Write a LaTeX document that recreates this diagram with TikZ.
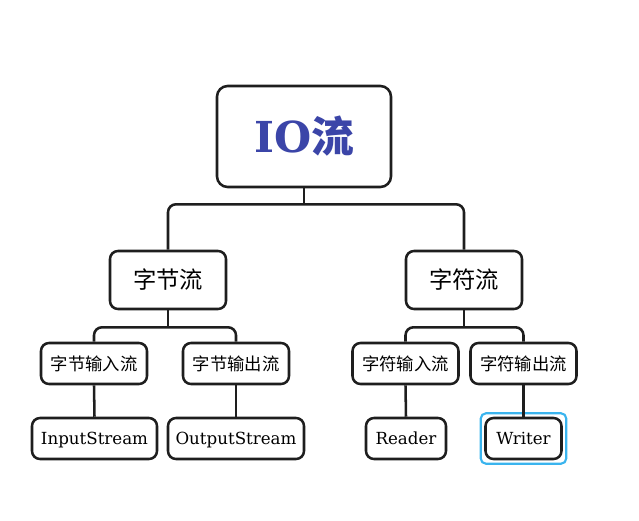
\documentclass[tikz,border=0pt]{standalone}
\usepackage{fontspec}
\setmainfont{DejaVu Serif}
\newfontfamily\cjk{Noto Sans CJK SC}
\usetikzlibrary{calc}
\definecolor{titleblue}{HTML}{3B45A8}
\definecolor{hilite}{HTML}{3AB4EE}
\definecolor{linecol}{HTML}{1E1E1E}
\tikzset{
  box/.style={draw=linecol, line width=1.9pt, rounded corners=6pt, fill=white, inner sep=0pt, align=center},
  conn/.style={draw=linecol, line width=1.9pt},
  latin/.style={font=\fontsize{12.5pt}{15pt}\selectfont, text height=9.6pt, text depth=0.5pt},
}
\begin{document}
\begin{tikzpicture}[x=0.75pt,y=-0.75pt]
\useasboundingbox (0,0) rectangle (639,521);
\node[box, rounded corners=8pt, minimum width={174*0.75pt}, minimum height={101*0.75pt}] (io) at (304,136.5)
  {\fontsize{32pt}{36pt}\selectfont\color{titleblue}\bfseries IO{\cjk\bfseries 流}};
\node[box, minimum width={116*0.75pt}, minimum height={58*0.75pt}] (byte) at (168,280)
  {\fontsize{17.5pt}{20pt}\selectfont\cjk 字节流};
\node[box, minimum width={116*0.75pt}, minimum height={58*0.75pt}] (char) at (464,280)
  {\fontsize{17.5pt}{20pt}\selectfont\cjk 字符流};
\node[box, minimum width={106*0.75pt}, minimum height={41*0.75pt}] (bin) at (94,363.5)
  {\fontsize{13pt}{15pt}\selectfont\cjk 字节输入流};
\node[box, minimum width={106*0.75pt}, minimum height={41*0.75pt}] (bout) at (236,363.5)
  {\fontsize{13pt}{15pt}\selectfont\cjk 字节输出流};
\node[box, minimum width={106*0.75pt}, minimum height={41*0.75pt}] (cin) at (405.5,363.5)
  {\fontsize{13pt}{15pt}\selectfont\cjk 字符输入流};
\node[box, minimum width={106*0.75pt}, minimum height={41*0.75pt}] (cout) at (523.5,363.5)
  {\fontsize{13pt}{15pt}\selectfont\cjk 字符输出流};
\node[box, latin, minimum width={125*0.75pt}, minimum height={41*0.75pt}] (is) at (94.5,438.5) {InputStream};
\node[box, latin, minimum width={136*0.75pt}, minimum height={41*0.75pt}] (os) at (236,438.5) {OutputStream};
\node[box, latin, minimum width={80*0.75pt}, minimum height={41*0.75pt}] (rd) at (406,438.5) {Reader};
\node[box, latin, minimum width={76*0.75pt}, minimum height={41*0.75pt}] (wr) at (523.5,438.5) {Writer};
\draw[draw=hilite, line width=1.6pt, rounded corners=4pt] ($(wr.south west)+(-3.5,3.5)$) rectangle ($(wr.north east)+(3.5,-3.5)$);
% connectors
\coordinate (j1) at ($(io.south)+(0,16)$);
\draw[conn] (io.south) -- (j1);
\draw[conn, rounded corners=6pt] (byte.north) |- (j1) -| (char.north);
\coordinate (j2) at ($(byte.south)+(0,17)$);
\draw[conn] (byte.south) -- (j2);
\draw[conn, rounded corners=6pt] (bin.north) |- (j2) -| (bout.north);
\coordinate (j3) at ($(char.south)+(0,17)$);
\draw[conn] (char.south) -- (j3);
\draw[conn, rounded corners=6pt] (cin.north) |- (j3) -| (cout.north);
\draw[conn] (bin.south) -- (is.north);
\draw[conn] (bout.south) -- (os.north);
\draw[conn] (cin.south) -- (rd.north);
\draw[conn] (cout.south) -- (wr.north);
\end{tikzpicture}
\end{document}
